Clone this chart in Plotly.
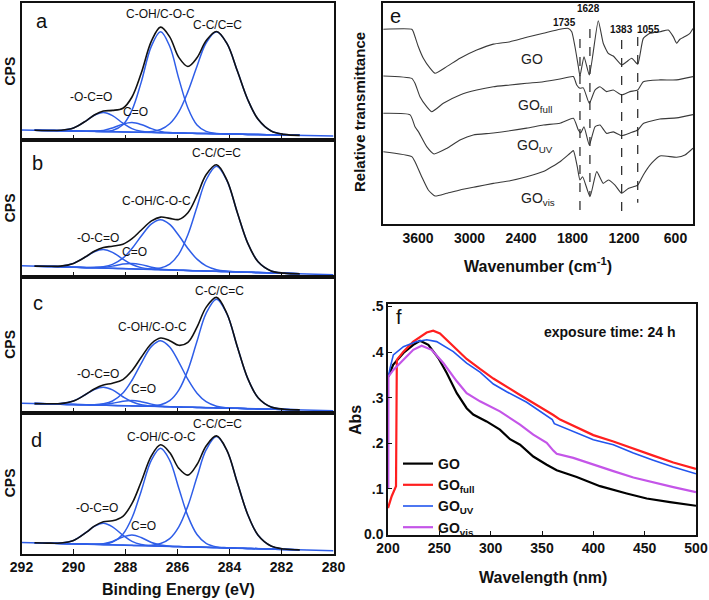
import plotly.graph_objects as go

# ---------------- XPS C1s data (panels a-d) ----------------
E_GRID = [291.5, 291.0, 290.5, 290.0, 289.5, 289.2, 288.85, 288.5, 288.1, 287.75, 287.4, 287.0, 286.65,
          286.3, 285.95, 285.6, 285.25, 284.9, 284.5, 284.1, 283.7, 283.3, 282.9, 282.4, 281.9, 281.3]
BASE_E = [292, 280]
XPS_TICKS = [292, 290, 288, 286, 284, 282, 280]

A_ENV = [7.1, 6.9, 7.1, 8.8, 14.2, 18.3, 21.2, 21.6, 23.2, 31.4, 48.5, 72.3, 82.4, 75.3, 60.3, 53.7, 60.0, 72.4, 79.2, 70.5, 50.5, 29.6, 15.1, 6.6, 4.1, 3.4]
A_CC = [7.1, 6.9, 6.8, 6.6, 6.4, 6.3, 6.1, 6.0, 5.9, 5.7, 5.7, 6.2, 7.7, 11.9, 20.6, 35.3, 53.8, 70.8, 79.0, 70.5, 50.5, 29.6, 15.1, 6.6, 4.1, 3.4]
A_COH = [7.1, 6.9, 6.8, 6.6, 6.4, 6.3, 6.3, 7.0, 11.1, 21.8, 41.9, 68.7, 79.0, 68.4, 44.8, 23.4, 11.0, 6.3, 4.8, 4.4, 4.3, 4.1, 4.0, 3.8, 3.6, 3.4]
A_OCO = [7.1, 6.9, 7.1, 8.8, 14.2, 18.1, 20.1, 17.8, 12.3, 8.3, 6.4, 5.6, 5.3, 5.2, 5.1, 5.0, 4.8, 4.7, 4.6, 4.4, 4.3, 4.1, 4.0, 3.8, 3.6, 3.4]
A_CO = [7.1, 6.9, 6.8, 6.6, 6.4, 6.5, 7.0, 8.8, 11.6, 12.7, 11.3, 8.3, 6.3, 5.4, 5.1, 5.0, 4.8, 4.7, 4.6, 4.4, 4.3, 4.1, 4.0, 3.8, 3.6, 3.4]
A_BASE = [7.3, 2.9]

B_ENV = [7.6, 7.5, 7.6, 9.6, 14.8, 18.5, 21.2, 22.2, 23.6, 27.7, 33.9, 40.7, 43.5, 42.6, 41.8, 46.7, 59.4, 74.5, 81.9, 70.6, 46.9, 24.5, 10.8, 4.1, 2.5, 2.0]
B_CC = [7.6, 7.4, 7.1, 6.8, 6.5, 6.4, 6.2, 6.0, 5.8, 5.6, 5.4, 5.5, 6.3, 9.1, 16.4, 30.6, 50.9, 70.7, 80.7, 70.3, 46.8, 24.5, 10.8, 4.1, 2.5, 2.0]
B_COH = [7.6, 7.4, 7.1, 6.8, 6.6, 6.7, 7.2, 8.9, 13.4, 20.5, 29.5, 38.6, 41.6, 38.2, 30.0, 20.5, 12.7, 7.8, 5.0, 3.9, 3.4, 3.1, 2.9, 2.6, 2.3, 2.0]
B_OCO = [7.6, 7.5, 7.6, 9.6, 14.7, 18.1, 19.7, 17.7, 12.7, 8.8, 6.5, 5.4, 5.0, 4.8, 4.6, 4.4, 4.2, 4.0, 3.8, 3.6, 3.3, 3.1, 2.9, 2.6, 2.3, 2.0]
B_CO = [7.6, 7.4, 7.1, 6.8, 6.5, 6.5, 6.7, 7.6, 9.1, 9.6, 8.7, 6.8, 5.5, 4.9, 4.6, 4.4, 4.2, 4.0, 3.8, 3.6, 3.3, 3.1, 2.9, 2.6, 2.3, 2.0]
B_BASE = [7.9, 1.3]

C_ENV = [6.9, 6.8, 6.9, 8.8, 14.0, 17.6, 20.5, 21.8, 24.5, 31.0, 40.6, 50.9, 54.9, 53.0, 49.6, 51.8, 62.9, 77.4, 84.7, 72.9, 48.6, 25.4, 11.2, 4.4, 2.8, 2.3]
C_CC = [6.9, 6.7, 6.4, 6.2, 6.0, 5.8, 5.7, 5.5, 5.3, 5.2, 5.0, 5.2, 6.0, 9.0, 16.7, 31.4, 52.5, 73.0, 83.4, 72.6, 48.5, 25.4, 11.2, 4.4, 2.8, 2.3]
C_COH = [6.9, 6.7, 6.4, 6.2, 6.1, 6.1, 6.8, 8.8, 14.6, 24.0, 36.2, 48.8, 53.0, 48.4, 37.3, 24.6, 14.5, 8.3, 5.0, 3.8, 3.4, 3.2, 3.0, 2.8, 2.6, 2.3]
C_OCO = [6.9, 6.8, 6.9, 8.8, 13.9, 17.2, 18.9, 16.9, 11.9, 8.2, 6.0, 5.1, 4.7, 4.5, 4.4, 4.2, 4.1, 3.9, 3.7, 3.5, 3.4, 3.2, 3.0, 2.8, 2.6, 2.3]
C_CO = [6.9, 6.7, 6.4, 6.2, 6.0, 5.9, 6.2, 7.1, 8.6, 9.2, 8.3, 6.5, 5.2, 4.6, 4.4, 4.2, 4.1, 3.9, 3.7, 3.5, 3.4, 3.2, 3.0, 2.8, 2.6, 2.3]
C_BASE = [7.1, 1.7]

D_ENV = [7.6, 7.4, 7.5, 9.3, 15.2, 19.5, 22.6, 23.3, 26.5, 35.6, 50.9, 69.6, 77.4, 71.9, 60.6, 55.8, 63.3, 76.5, 83.7, 73.4, 50.5, 27.8, 13.0, 5.3, 3.2, 2.6]
D_CC = [7.6, 7.4, 7.1, 6.9, 6.7, 6.5, 6.3, 6.2, 6.0, 5.8, 5.7, 5.9, 7.1, 10.6, 19.0, 33.9, 54.4, 73.7, 83.2, 73.3, 50.5, 27.8, 13.0, 5.3, 3.2, 2.6]
D_COH = [7.6, 7.4, 7.1, 6.9, 6.7, 6.6, 6.7, 8.1, 13.7, 25.4, 44.2, 66.6, 74.9, 66.3, 46.5, 26.6, 13.5, 7.2, 4.7, 4.1, 3.8, 3.6, 3.4, 3.2, 2.9, 2.6]
D_OCO = [7.6, 7.4, 7.5, 9.3, 15.2, 19.3, 21.5, 19.0, 13.0, 8.6, 6.4, 5.5, 5.3, 5.1, 4.9, 4.7, 4.6, 4.4, 4.2, 4.0, 3.8, 3.6, 3.4, 3.2, 2.9, 2.6]
D_CO = [7.6, 7.4, 7.1, 6.9, 6.7, 6.6, 7.0, 8.6, 11.8, 13.2, 11.4, 7.8, 6.0, 5.2, 4.9, 4.7, 4.6, 4.4, 4.2, 4.0, 3.8, 3.6, 3.4, 3.2, 2.9, 2.6]
D_BASE = [7.9, 2.0]

PANEL_LETTERS = ["a", "b", "c", "d"]
PEAK_LABELS = ["-O-C=O", "C=O", "C-OH/C-O-C", "C-C/C=C"]

# ---------------- FTIR data (panel e) ----------------
FT_GO_W = [4004, 3673, 3655, 3596, 3538, 3460, 3402, 3266, 3111, 2916, 2723, 2528, 2334, 2140, 1946, 1849, 1809, 1771, 1732, 1713, 1666, 1604, 1500, 1442, 1383, 1325, 1227, 1169, 1110, 1040, 975, 897, 781, 684, 626, 587, 548, 490, 432, 396]
FT_GO_T = [88.1, 88.1, 87.0, 80.2, 75.0, 70.5, 68.2, 71.2, 75.0, 78.7, 81.4, 82.5, 84.5, 86.3, 88.1, 88.5, 87.0, 80.2, 71.2, 67.0, 75.7, 67.4, 92.0, 81.8, 77.2, 76.0, 72.0, 73.4, 75.0, 72.3, 84.0, 86.3, 87.0, 87.8, 84.8, 81.8, 83.6, 84.8, 86.3, 88.5]
FT_FULL_W = [4004, 3673, 3635, 3577, 3499, 3440, 3305, 3111, 2916, 2723, 2528, 2334, 2140, 1946, 1790, 1751, 1713, 1674, 1604, 1538, 1480, 1402, 1325, 1227, 1130, 1040, 975, 781, 587, 396]
FT_FULL_T = [67.0, 65.9, 63.7, 57.6, 53.1, 50.8, 54.6, 58.4, 60.6, 62.1, 62.9, 63.7, 64.4, 65.6, 66.7, 62.9, 61.4, 61.6, 54.6, 60.6, 62.1, 59.9, 60.6, 58.4, 59.9, 60.6, 64.4, 65.2, 65.2, 66.7]
FT_UV_W = [4004, 3692, 3635, 3596, 3499, 3414, 3266, 3111, 2956, 2723, 2334, 2140, 1946, 1790, 1732, 1705, 1666, 1604, 1538, 1480, 1402, 1325, 1227, 1130, 1040, 975, 781, 587, 396]
FT_UV_T = [50.1, 49.4, 44.0, 41.8, 35.0, 31.7, 34.2, 38.0, 40.3, 41.2, 43.4, 44.8, 45.6, 47.8, 42.5, 41.2, 44.0, 35.7, 44.0, 44.8, 41.0, 41.7, 40.0, 41.2, 42.5, 45.5, 47.5, 48.0, 49.5]
FT_VIS_W = [4004, 3673, 3635, 3557, 3480, 3402, 3266, 3111, 2916, 2723, 2528, 2334, 2140, 1946, 1829, 1790, 1744, 1713, 1682, 1596, 1518, 1442, 1383, 1305, 1227, 1150, 1040, 975, 878, 781, 587, 490, 396]
FT_VIS_T = [32.7, 30.5, 28.2, 21.4, 15.4, 12.7, 13.9, 15.4, 16.9, 18.4, 19.6, 21.4, 23.7, 28.2, 32.0, 33.2, 25.9, 19.9, 21.4, 12.4, 23.7, 18.4, 19.9, 17.6, 13.9, 16.1, 17.6, 22.2, 27.5, 30.8, 30.2, 31.2, 34.3]
FT_TICKS = [3600, 3000, 2400, 1800, 1200, 600]
DASH_W = [1713, 1597, 1227, 1040]
DASH_TOP = [83.7, 88.2, 83.3, 84.6]
DASH_BOT = [2.7, 12.8, 5.6, 9.6]
DASH_LABELS = ["1735", "1628", "1383", "1055"]
FT_NAMES = ["GO", "GO<sub>full</sub>", "GO<sub>UV</sub>", "GO<sub>vis</sub>"]

# ---------------- UV-vis data (panel f) ----------------
UV_GO_X = [200.3, 205.0, 215.0, 224.6, 231.2, 239.3, 249.0, 257.2, 267.0, 276.6, 283.0, 296.0, 309.0, 318.8, 328.6, 341.5, 354.6, 364.3, 383.8, 406.5, 432.5, 452.0, 474.7, 500.0]
UV_GO_Y = [0.346, 0.372, 0.398, 0.416, 0.425, 0.416, 0.387, 0.354, 0.310, 0.277, 0.263, 0.248, 0.230, 0.209, 0.197, 0.171, 0.153, 0.141, 0.126, 0.106, 0.090, 0.079, 0.071, 0.063]
UV_FULL_X = [200.0, 203.6, 207.8, 208.6, 215.0, 224.6, 237.7, 244.0, 250.6, 263.6, 276.6, 289.6, 302.6, 328.6, 354.6, 361.0, 367.6, 380.5, 400.0, 419.5, 439.0, 458.4, 477.9, 500.0]
UV_FULL_Y = [0.058, 0.084, 0.106, 0.383, 0.401, 0.423, 0.443, 0.447, 0.441, 0.412, 0.385, 0.363, 0.342, 0.306, 0.272, 0.262, 0.252, 0.238, 0.218, 0.204, 0.188, 0.173, 0.158, 0.144]
UV_UV_X = [200.3, 202.0, 205.2, 215.0, 228.0, 237.7, 247.4, 263.6, 276.6, 289.6, 302.6, 315.6, 335.1, 354.6, 360.0, 362.0, 380.5, 400.0, 419.5, 439.0, 458.4, 477.9, 500.0]
UV_UV_Y = [0.345, 0.365, 0.394, 0.412, 0.423, 0.427, 0.423, 0.401, 0.376, 0.356, 0.330, 0.313, 0.290, 0.261, 0.252, 0.243, 0.226, 0.208, 0.197, 0.179, 0.163, 0.148, 0.133]
UV_VIS_X = [200.3, 200.4, 205.2, 215.0, 224.6, 232.8, 242.5, 253.9, 267.0, 276.6, 289.6, 309.0, 328.6, 341.5, 354.6, 361.0, 364.3, 380.5, 400.0, 419.5, 439.0, 458.4, 477.9, 500.0]
UV_VIS_Y = [0.102, 0.346, 0.361, 0.383, 0.405, 0.414, 0.405, 0.376, 0.336, 0.310, 0.292, 0.270, 0.241, 0.219, 0.201, 0.184, 0.177, 0.168, 0.153, 0.139, 0.125, 0.114, 0.104, 0.093]
UV_XTICKS = [200, 250, 300, 350, 400, 450, 500]
UV_YTICKS = [0.0, 0.1, 0.2, 0.3, 0.4, 0.5]
UV_YTEXT = ["0.0", ".1", ".2", ".3", ".4", ".5"]
UV_NAMES = ["GO", "GO<sub>full</sub>", "GO<sub>UV</sub>", "GO<sub>vis</sub>"]

# ---------------- styling / layout constants ----------------
W, H = 709, 600
FONT = "Arial, Liberation Sans, sans-serif"
BLUE = "#2f5ee8"
BLACK = "#111111"
FT_COLOR = "#3a3a3a"
UV_COLORS = ["#000000", "#ff1f1f", "#2255ee", "#c455e8"]
UV_WIDTHS = [2.2, 2.2, 1.6, 2.2]


def px_x(p):
    return p / W


def px_y(p):
    return 1 - p / H


LEFT_X = [21.5, 333.5]
PANEL_PY = [(3, 140), (140, 276.5), (276.5, 413), (413, 553.5)]

fig = go.Figure()

panels = [
    (A_ENV, A_CC, A_COH, A_OCO, A_CO, A_BASE),
    (B_ENV, B_CC, B_COH, B_OCO, B_CO, B_BASE),
    (C_ENV, C_CC, C_COH, C_OCO, C_CO, C_BASE),
    (D_ENV, D_CC, D_COH, D_OCO, D_CO, D_BASE),
]

for i, (env, cc, coh, oco, co, base) in enumerate(panels):
    xa = "x" if i == 0 else f"x{i+1}"
    ya = "y" if i == 0 else f"y{i+1}"
    fig.add_trace(go.Scatter(x=BASE_E, y=base, mode="lines", line=dict(color=BLUE, width=1.5),
                             xaxis=xa, yaxis=ya, showlegend=False, hoverinfo="skip"))
    for comp in (oco, co, coh, cc):
        fig.add_trace(go.Scatter(x=E_GRID, y=comp, mode="lines",
                                 line=dict(color=BLUE, width=1.5, shape="spline", smoothing=1.0),
                                 xaxis=xa, yaxis=ya, showlegend=False, hoverinfo="skip"))
    fig.add_trace(go.Scatter(x=E_GRID, y=env, mode="lines",
                             line=dict(color=BLACK, width=1.6, shape="spline", smoothing=1.0),
                             xaxis=xa, yaxis=ya, showlegend=False, hoverinfo="skip"))

# FTIR
for wv, tr in ((FT_GO_W, FT_GO_T), (FT_FULL_W, FT_FULL_T), (FT_UV_W, FT_UV_T), (FT_VIS_W, FT_VIS_T)):
    fig.add_trace(go.Scatter(x=wv, y=tr, mode="lines",
                             line=dict(color=FT_COLOR, width=1.1, shape="spline", smoothing=0.5),
                             xaxis="x5", yaxis="y5", showlegend=False, hoverinfo="skip"))
for k in range(len(DASH_W)):
    fig.add_trace(go.Scatter(x=[DASH_W[k], DASH_W[k]], y=[DASH_TOP[k], DASH_BOT[k]], mode="lines",
                             line=dict(color="#222222", width=1.2, dash="dash"),
                             xaxis="x5", yaxis="y5", showlegend=False, hoverinfo="skip"))

# UV-vis
uv_series = [(UV_GO_X, UV_GO_Y), (UV_FULL_X, UV_FULL_Y), (UV_UV_X, UV_UV_Y), (UV_VIS_X, UV_VIS_Y)]
for k, (xs, ys) in enumerate(uv_series):
    fig.add_trace(go.Scatter(x=xs, y=ys, mode="lines", name=f"<b>{UV_NAMES[k]}</b>",
                             line=dict(color=UV_COLORS[k], width=UV_WIDTHS[k]),
                             xaxis="x6", yaxis="y6", showlegend=True, hoverinfo="skip"))

axis_common = dict(showline=True, mirror=True, linecolor="#111111", linewidth=1.5,
                   showgrid=False, zeroline=False, automargin=False)
tickfont = dict(family=FONT, size=14, color="#111111")

layout = dict(width=W, height=H, margin=dict(l=0, r=0, t=0, b=0, pad=0, autoexpand=False),
              paper_bgcolor="white", plot_bgcolor="white",
              font=dict(family=FONT, color="#111111"))

for i, (top, bot) in enumerate(PANEL_PY):
    xk = "xaxis" if i == 0 else f"xaxis{i+1}"
    yk = "yaxis" if i == 0 else f"yaxis{i+1}"
    ya = "y" if i == 0 else f"y{i+1}"
    xa = "x" if i == 0 else f"x{i+1}"
    layout[xk] = dict(axis_common, domain=[px_x(LEFT_X[0]), px_x(LEFT_X[1])], range=[292, 280],
                      anchor=ya, tickvals=XPS_TICKS, ticktext=[f"<b>{t}</b>" for t in XPS_TICKS],
                      ticks="inside", ticklen=5, tickwidth=1.2, tickcolor="#111111",
                      showticklabels=(i == 3), tickfont=tickfont)
    layout[yk] = dict(axis_common, domain=[px_y(bot), px_y(top)], range=[0, 100], anchor=xa,
                      showticklabels=False, ticks="")

layout["xaxis5"] = dict(axis_common, domain=[px_x(383), px_x(693)], range=[4008, 396], anchor="y5",
                        tickvals=FT_TICKS, ticktext=[f"<b>{t}</b>" for t in FT_TICKS], ticks="",
                        tickfont=tickfont)
layout["yaxis5"] = dict(axis_common, domain=[px_y(224), px_y(3)], range=[0, 100], anchor="x5",
                        showticklabels=False, ticks="")
layout["xaxis6"] = dict(axis_common, domain=[px_x(388), px_x(696)], range=[200, 500], anchor="y6",
                        tickvals=UV_XTICKS, ticktext=[f"<b>{t}</b>" for t in UV_XTICKS],
                        ticks="inside", ticklen=4, tickcolor="#111111", tickfont=tickfont)
layout["yaxis6"] = dict(axis_common, domain=[px_y(534.5), px_y(304)], range=[0, 0.5055], anchor="x6",
                        tickvals=UV_YTICKS, ticktext=[f"<b>{t}</b>" for t in UV_YTEXT],
                        ticks="inside", ticklen=4, tickcolor="#111111", tickfont=tickfont)

layout["legend"] = dict(x=px_x(398), y=px_y(448), xanchor="left", yanchor="top",
                        bgcolor="rgba(0,0,0,0)", font=dict(family=FONT, size=14, color="#111111"),
                        tracegroupgap=0, itemwidth=30)

fig.update_layout(**layout)

ann = []
C = dict(xanchor="center", yanchor="middle", showarrow=False)
# XPS labels: (letter pos, peak label positions in order of PEAK_LABELS)
LETTER_POS = [(291.2, 87.0), (291.38, 83.0), (291.38, 80.5), (291.43, 80.5)]
PEAK_POS = [
    [(289.33, 31.4), (287.6, 20.4), (286.67, 92.0), (284.46, 84.0)],
    [(289.05, 28.2), (287.65, 18.0), (286.82, 55.3), (284.49, 90.7)],
    [(289.04, 28.6), (287.3, 17.6), (286.95, 63.0), (284.38, 89.4)],
    [(289.1, 32.2), (287.3, 19.6), (286.6, 82.8), (284.45, 92.0)],
]
for i in range(4):
    xa = "x" if i == 0 else f"x{i+1}"
    ya = "y" if i == 0 else f"y{i+1}"
    ann.append(dict(C, x=LETTER_POS[i][0], y=LETTER_POS[i][1], xref=xa, yref=ya, text=PANEL_LETTERS[i],
                    font=dict(family=FONT, size=20, color="#111111")))
    for j, lab in enumerate(PEAK_LABELS):
        ann.append(dict(C, x=PEAK_POS[i][j][0], y=PEAK_POS[i][j][1], xref=xa, yref=ya, text=lab,
                        font=dict(family=FONT, size=12, color="#111111")))
    top, bot = PANEL_PY[i]
    ann.append(dict(C, x=px_x(10), y=px_y((top + bot) / 2), xref="paper", yref="paper", text="<b>CPS</b>",
                    textangle=-90, font=dict(family=FONT, size=14, color="#111111")))

ann.append(dict(C, x=px_x(178), y=px_y(589), xref="paper", yref="paper", text="<b>Binding Energy (eV)</b>",
                font=dict(family=FONT, size=16, color="#111111")))

# FTIR annotations
ann.append(dict(C, x=3868, y=94.0, xref="x5", yref="y5", text="e",
                font=dict(family=FONT, size=20, color="#111111")))
FT_LABEL_POS = [(2272, 74.7), (2240, 53.5), (2237, 35.5), (2202, 11.5)]
for k, nm in enumerate(FT_NAMES):
    ann.append(dict(C, x=FT_LABEL_POS[k][0], y=FT_LABEL_POS[k][1], xref="x5", yref="y5", text=nm,
                    font=dict(family=FONT, size=14, color="#222222")))
DASH_LABEL_POS = [(1888, 91.4), (1611, 97.3), (1227, 88.2), (917, 88.2)]
for k, lab in enumerate(DASH_LABELS):
    ann.append(dict(C, x=DASH_LABEL_POS[k][0], y=DASH_LABEL_POS[k][1], xref="x5", yref="y5",
                    text=f"<b>{lab}</b>", font=dict(family=FONT, size=10, color="#111111")))
ann.append(dict(C, x=px_x(360), y=px_y(112), xref="paper", yref="paper", text="<b>Relative transmittance</b>",
                textangle=-90, font=dict(family=FONT, size=15, color="#111111")))
ann.append(dict(C, x=px_x(538), y=px_y(265), xref="paper", yref="paper",
                text="<b>Wavenumber (cm<sup>-1</sup>)</b>",
                font=dict(family=FONT, size=16, color="#111111")))

# UV-vis annotations
ann.append(dict(C, x=210.7, y=0.476, xref="x6", yref="y6", text="f",
                font=dict(family=FONT, size=20, color="#111111")))
ann.append(dict(C, x=416, y=0.444, xref="x6", yref="y6", text="<b>exposure time: 24 h</b>",
                font=dict(family=FONT, size=14, color="#111111")))
ann.append(dict(C, x=px_x(355), y=px_y(420), xref="paper", yref="paper", text="<b>Abs</b>",
                textangle=-90, font=dict(family=FONT, size=16, color="#111111")))
ann.append(dict(C, x=px_x(543), y=px_y(577), xref="paper", yref="paper", text="<b>Wavelength (nm)</b>",
                font=dict(family=FONT, size=16, color="#111111")))

fig.update_layout(annotations=ann)
fig.write_html("out.html", config={"displayModeBar": False},
               post_script="document.body.style.margin='0';document.body.style.overflow='hidden';")
